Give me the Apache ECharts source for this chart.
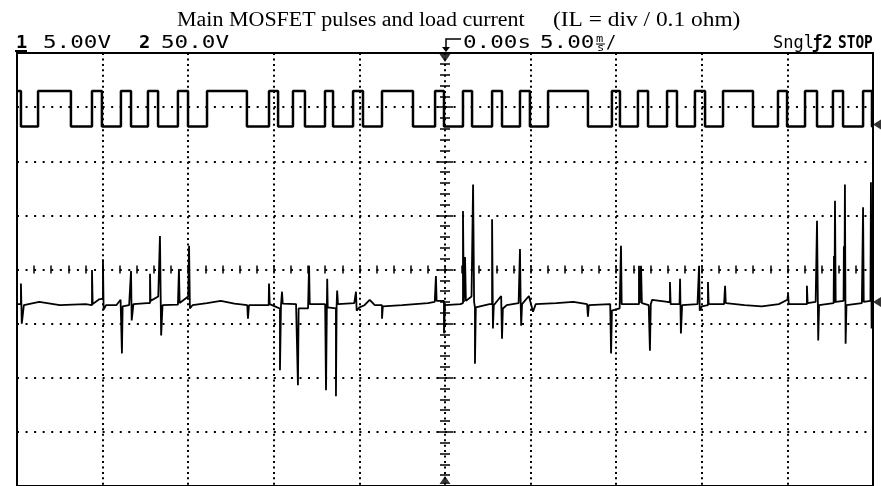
<!DOCTYPE html>
<html>
<head>
<meta charset="utf-8">
<script src="https://cdn.jsdelivr.net/npm/echarts@6/dist/echarts.min.js"></script>
<style>
html,body{margin:0;padding:0;background:#fff;}
#chart{width:881px;height:486px;}
</style>
</head>
<body>
<div id="chart"></div>
<script>
// Scope screen: 5 ms/div over 10 divisions, 8 vertical divisions
const timeRange = [-25, 25];   // ms
const divRange = [-4, 4];      // screen divisions

// Channel 1 (5 V/div): gate pulses, levels in divisions
const ch1High = 3.30;
const ch1Low = 2.64;
// switching edges in ms, trace starts high and alternates fall / rise
const ch1Edges = [
  -24.77, -23.77, -21.85, -20.62, -20.04, -18.93, -18.34, -17.35, -16.76, -15.60,
  -15.01, -13.90, -11.57, -10.28, -9.75, -8.88, -8.18, -7.01, -6.54, -5.37,
  -4.79, -3.68, -1.87, -0.58, -0.06, 1.05, 1.58, 2.75, 3.33, 4.38,
  4.96, 6.02, 8.35, 9.75, 10.22, 11.27, 11.86, 12.97, 13.55, 14.60,
  15.19, 16.24, 17.99, 19.45, 19.98, 21.03, 21.73, 22.66, 23.25, 24.42,
  24.94
];

// Channel 2 (50 V/div): load current trace, [ms, div]
const ch2Trace = [
  [-25.00,-0.64],
  [-24.77,-0.64],[-24.77,-0.26],[-24.72,-1.00],[-24.60,-0.66],
  [-23.70,-0.60],[-22.50,-0.66],[-21.00,-0.64],
  [-20.62,-0.66],[-20.62,-0.01],[-20.58,-0.64],[-20.20,-0.55],
  [-19.98,-0.54],[-19.98,0.19],[-19.94,-0.74],[-19.80,-0.66],
  [-19.20,-0.66],[-18.95,-0.56],
  [-18.87,-0.56],[-18.87,-1.55],[-18.83,-0.68],
  [-18.45,-0.66],
  [-18.34,-0.64],[-18.34,-0.03],[-18.30,-0.94],[-18.20,-0.64],
  [-17.40,-0.62],
  [-17.23,-0.62],[-17.23,-0.08],[-17.20,-0.58],[-16.75,-0.50],
  [-16.65,-0.48],[-16.65,0.62],[-16.58,-1.22],[-16.50,-0.66],
  [-15.60,-0.65],
  [-15.54,-0.64],[-15.54,0.01],[-15.50,-0.62],[-15.00,-0.50],
  [-14.95,-0.49],[-14.95,0.44],[-14.90,-0.72],[-14.75,-0.66],
  [-13.90,-0.62],[-13.10,-0.58],[-12.30,-0.63],[-11.55,-0.66],
  [-11.51,-0.66],[-11.51,-0.91],[-11.45,-0.66],
  [-10.30,-0.66],
  [-10.28,-0.66],[-10.28,-0.26],[-10.24,-0.64],[-9.80,-0.70],
  [-9.64,-0.72],[-9.64,-1.86],[-9.58,-0.66],
  [-9.52,-0.64],[-9.52,-0.41],[-9.48,-0.63],
  [-8.70,-0.64],
  [-8.59,-0.66],[-8.59,-2.14],[-8.55,-0.72],
  [-8.00,-0.72],
  [-7.94,-0.72],[-7.94,0.07],[-7.90,-0.64],[-7.00,-0.64],
  [-6.95,-0.66],[-6.95,-2.23],[-6.90,-0.66],[-6.88,-0.17],[-6.85,-0.70],
  [-6.37,-0.72],[-6.37,-2.34],[-6.33,-0.66],[-6.30,-0.39],[-6.25,-0.64],
  [-5.30,-0.62],
  [-5.20,-0.62],[-5.20,-0.41],[-5.16,-0.76],[-5.00,-0.70],
  [-4.70,-0.66],[-4.40,-0.56],[-4.10,-0.66],
  [-3.68,-0.66],[-3.68,-0.91],[-3.63,-0.68],
  [-2.50,-0.66],[-1.00,-0.62],[-0.60,-0.60],
  [-0.53,-0.60],[-0.53,-0.12],[-0.49,-0.58],
  [-0.06,-0.58],[-0.06,-1.18],[0.00,-0.66],
  [0.90,-0.64],
  [1.05,-0.62],[1.05,1.08],[1.10,-0.60],[1.17,-0.60],[1.17,0.23],[1.22,-0.58],
  [1.55,-0.50],
  [1.64,-0.49],[1.64,1.57],[1.70,-0.60],[1.75,-0.70],[1.75,-1.74],[1.80,-0.70],
  [2.60,-0.64],
  [2.75,-0.64],[2.75,0.93],[2.80,-1.09],[2.85,-0.66],
  [3.28,-0.49],
  [3.33,-0.49],[3.33,-1.28],[3.38,-0.72],[3.60,-0.66],
  [4.30,-0.62],
  [4.38,-0.62],[4.38,0.38],[4.42,-0.62],[4.45,-1.04],[4.50,-0.64],
  [4.90,-0.49],
  [4.96,-0.49],[5.14,-0.78],[5.30,-0.64],
  [6.50,-0.62],[7.50,-0.60],[8.30,-0.64],
  [8.35,-0.66],[8.35,-0.87],[8.40,-0.66],
  [9.65,-0.64],
  [9.70,-0.64],[9.70,-1.55],[9.75,-0.76],[10.20,-0.72],
  [10.28,-0.70],[10.28,0.44],[10.32,-0.64],
  [11.20,-0.64],
  [11.33,-0.64],[11.33,0.07],[11.38,-0.62],[11.45,0.07],[11.50,-0.62],
  [11.90,-0.66],
  [11.97,-0.68],[11.97,-1.50],[12.02,-0.64],[12.10,-0.56],
  [13.00,-0.60],
  [13.14,-0.60],[13.14,-0.23],[13.18,-0.64],
  [13.70,-0.64],[13.73,-0.17],[13.78,-1.18],[13.85,-0.66],
  [14.75,-0.64],
  [14.84,-0.62],[14.84,0.07],[14.88,-0.76],[15.00,-0.68],
  [15.36,-0.66],[15.36,-0.23],[15.40,-0.64],
  [16.30,-0.64],
  [16.36,-0.64],[16.36,-0.30],[16.40,-0.62],
  [17.50,-0.66],[18.50,-0.68],[19.50,-0.64],[20.00,-0.56],
  [20.04,-0.56],[20.04,-0.45],[20.08,-0.64],
  [21.00,-0.64],
  [21.14,-0.64],[21.14,-0.30],[21.18,-0.62],
  [21.65,-0.60],
  [21.73,-0.60],[21.73,0.90],[21.78,-0.66],[21.80,-1.31],[21.85,-0.66],
  [22.70,-0.62],
  [22.72,-0.62],[22.72,0.25],[22.75,-0.62],[22.78,1.27],[22.82,-0.60],
  [23.28,-0.58],
  [23.30,0.43],[23.33,-0.58],[23.36,1.57],[23.40,-1.37],[23.45,-0.66],
  [24.35,-0.62],
  [24.42,-0.62],[24.42,1.15],[24.46,-0.60],
  [24.85,-0.58],[24.88,1.61],[24.92,-1.09],[25.00,-0.60]
];

// Ground reference levels shown on the right edge
const ch1Ground = 2.68;
const ch2Ground = -0.60;

// Header readouts
const titleMain = 'Main MOSFET pulses and load current';
const titleNote = '(IL = div / 0.1 ohm)';
const ch1Scale = '5.00V';
const ch2Scale = '50.0V';
const triggerPos = '0.00s';
const timeScale = '5.00';
const runState = 'Sngl';
const trigSource = 'ƒ2';
const stopText = 'STOP';

// Build the step trace of channel 1 from its edges
const ch1Data = [[timeRange[0], ch1High]];
let lvl = ch1High;
ch1Edges.forEach(function (t) {
  ch1Data.push([t, lvl]);
  lvl = (lvl === ch1High) ? ch1Low : ch1High;
  ch1Data.push([t, lvl]);
});
ch1Data.push([timeRange[1], lvl]);

const chart = echarts.init(document.getElementById('chart'), null, {renderer: 'canvas'});

const mono = '"DejaVu Sans Mono", monospace';
function txt(x, y, text, font, sx, extra) {
  return Object.assign({
    type: 'text', x: x, y: y, scaleX: sx || 1, z: 10,
    style: {text: text, font: font, fill: '#000', align: 'left', verticalAlign: 'middle'}
  }, extra || {});
}

const timeAxisBase = {
  type: 'value', min: timeRange[0], max: timeRange[1], interval: 5,
  axisLabel: {show: false},
  axisLine: {show: false, onZero: true},
  axisTick: {show: true, length: 4, lineStyle: {color: '#000', width: 1.5}},
  minorTick: {show: true, splitNumber: 5, length: 4, lineStyle: {color: '#000', width: 1.5}},
  splitLine: {show: false}
};
const divAxisBase = {
  type: 'value', min: divRange[0], max: divRange[1], interval: 1,
  axisLabel: {show: false},
  axisLine: {show: false, onZero: true},
  axisTick: {show: true, length: 8, lineStyle: {color: '#000', width: 1.5}},
  minorTick: {show: true, splitNumber: 5, length: 5, lineStyle: {color: '#000', width: 1.5}},
  splitLine: {show: false}
};

chart.setOption({
  animation: false,
  backgroundColor: '#fff',
  grid: {left: 17, top: 53, width: 856, height: 436, show: true,
         borderColor: '#000', borderWidth: 2, backgroundColor: 'transparent'},
  xAxis: [
    Object.assign({}, timeAxisBase, {position: 'bottom',
      splitLine: {show: true, lineStyle: {color: '#000', width: 2, type: [2, 3.44]}}}),
    Object.assign({}, timeAxisBase, {position: 'top'})
  ],
  yAxis: [
    Object.assign({}, divAxisBase, {position: 'left',
      splitLine: {show: true, lineStyle: {color: '#000', width: 2, type: [2, 6.56]}}}),
    Object.assign({}, divAxisBase, {position: 'right'})
  ],
  series: [
    {
      name: 'CH1', type: 'line', data: ch1Data, showSymbol: false, z: 5,
      lineStyle: {color: '#000', width: 2.5}
    },
    {
      name: 'CH2', type: 'line', data: ch2Trace, showSymbol: false, z: 5,
      lineStyle: {color: '#000', width: 1.8}
    },
    {
      name: 'markers', type: 'scatter', clip: false, z: 6,
      itemStyle: {color: '#000'},
      data: [
        {value: [0, divRange[1]], symbol: 'triangle', symbolRotate: 180, symbolSize: [11, 8], symbolOffset: [0, 5]},
        {value: [0, divRange[0]], symbol: 'triangle', symbolSize: [11, 8], symbolOffset: [0, -6]},
        {value: [timeRange[1], ch1Ground], symbol: 'triangle', symbolRotate: 90, symbolSize: [10, 8], symbolOffset: [4, 0]},
        {value: [timeRange[1], ch2Ground], symbol: 'triangle', symbolRotate: 90, symbolSize: [10, 8], symbolOffset: [4, 0]}
      ]
    }
  ],
  graphic: [
    txt(177, 21, titleMain, '20px "Liberation Serif"', 1.1),
    txt(553, 21, titleNote, '20px "Liberation Serif"', 1.17),
    txt(16, 44, '1', 'bold 17px ' + mono, 1.1),
    {type: 'line', z: 10, shape: {x1: 15, y1: 51, x2: 27, y2: 51}, style: {stroke: '#000', lineWidth: 2}},
    txt(43, 44, ch1Scale, '17px ' + mono, 1.33),
    txt(139, 44, '2', 'bold 17px ' + mono, 1.1),
    txt(161, 44, ch2Scale, '17px ' + mono, 1.33),
    {type: 'polyline', z: 10, shape: {points: [[461, 39], [446, 39], [446, 48]]}, style: {stroke: '#000', lineWidth: 1.5, fill: null}},
    {type: 'polygon', z: 10, shape: {points: [[442, 47], [450, 47], [446, 52]]}, style: {fill: '#000'}},
    txt(463, 44, triggerPos, '17px ' + mono, 1.33),
    txt(540, 44, timeScale, '17px ' + mono, 1.33),
    txt(596, 39, 'm', '10px ' + mono, 1.2),
    {type: 'line', z: 10, shape: {x1: 596, y1: 44, x2: 605, y2: 44}, style: {stroke: '#000', lineWidth: 1}},
    txt(597, 48, 's', '10px ' + mono, 1.2),
    txt(606, 44, '/', '17px ' + mono, 1.0),
    txt(773, 44, runState, '17px ' + mono, 1.0),
    txt(812, 44, trigSource, 'bold 17px ' + mono, 1.0),
    txt(838, 44, stopText, 'bold 17px ' + mono, 0.85)
  ]
});
</script>
</body>
</html>
